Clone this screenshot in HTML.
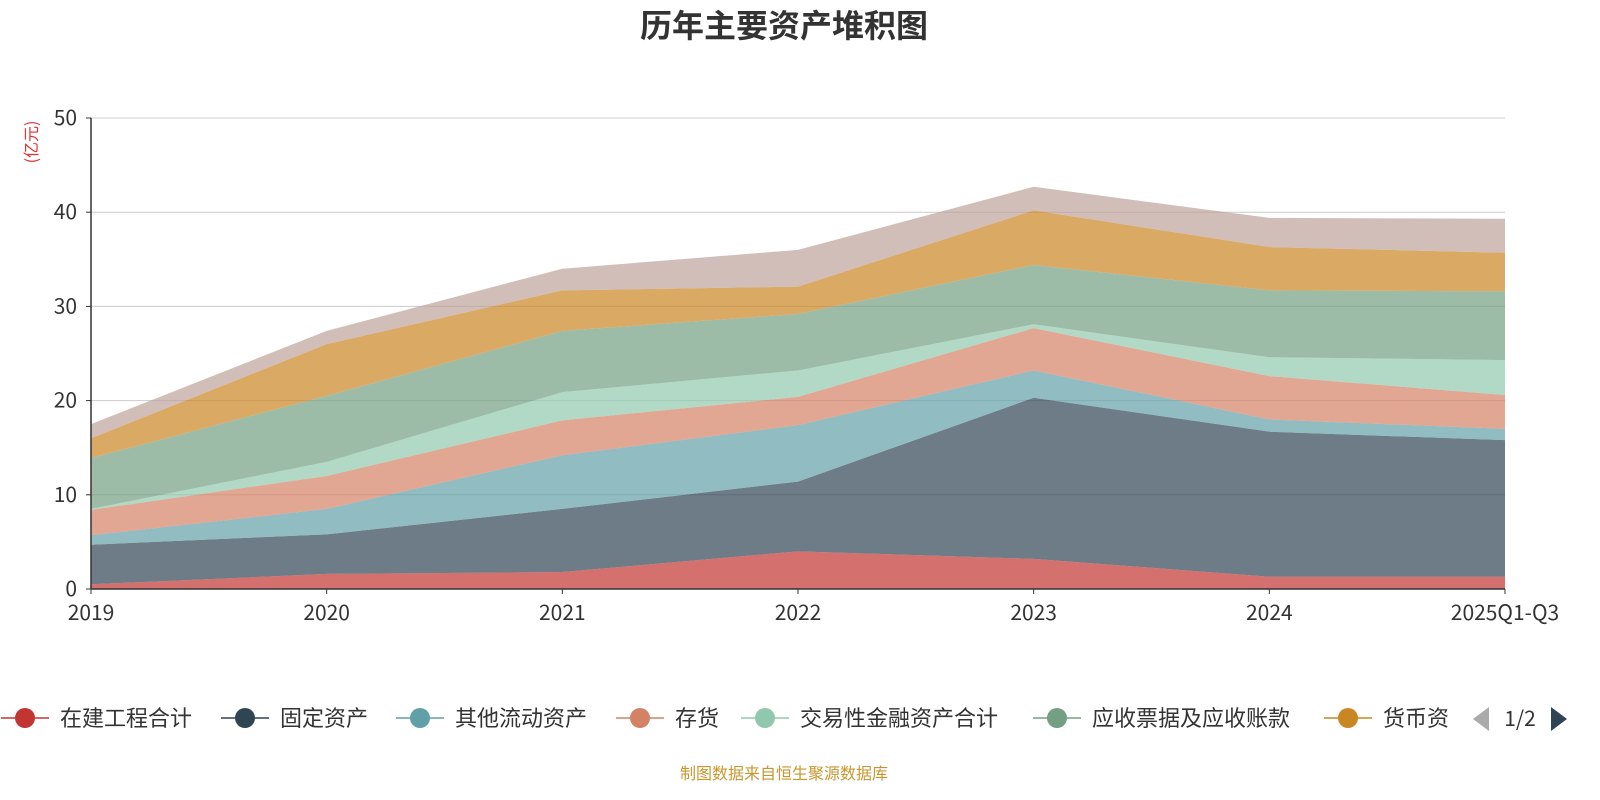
<!DOCTYPE html>
<html><head><meta charset="utf-8"><style>
html,body{margin:0;padding:0;background:#fff;width:1600px;height:800px;overflow:hidden}
svg text{font-family:"Noto Sans CJK SC","Liberation Sans",sans-serif}
</style></head><body>
<svg id="chart" width="1600" height="800">
<text x="784" y="37" text-anchor="middle" font-size="32" font-weight="bold" fill="#333">历年主要资产堆积图</text>
<text transform="translate(37,142) rotate(-90)" text-anchor="middle" font-size="16" fill="#e03030">(亿元)</text>
<g id="grid"></g><g id="areas"></g><g id="axes"></g><g id="legend"></g>
<text x="784" y="779" text-anchor="middle" font-size="16" fill="#c8962e">制图数据来自恒生聚源数据库</text>
</svg>
<script>
const categories=["2019","2020","2021","2022","2023","2024","2025Q1-Q3"];
const seriesNames=["在建工程合计","固定资产","其他流动资产","存货","交易性金融资产合计","应收票据及应收账款","货币资金","其他"];
const s0=[0.5,1.6,1.8,4.0,3.2,1.3,1.3];
const s1=[4.2,4.2,6.7,7.4,17.1,15.4,14.5];
const s2=[1.0,2.7,5.7,6.0,2.9,1.3,1.2];
const s3=[2.7,3.5,3.7,3.0,4.5,4.6,3.6];
const s4=[0.1,1.5,3.0,2.8,0.4,2.0,3.7];
const s5=[5.4,7.0,6.5,6.0,6.3,7.1,7.3];
const s6=[2.1,5.5,4.3,2.9,5.8,4.6,4.1];
const s7=[1.5,1.4,2.3,3.9,2.5,3.1,3.6];
const series=[s0,s1,s2,s3,s4,s5,s6,s7];
const yTicks=[0,10,20,30,40,50];
const colors=["#c23531","#2f4554","#61a0a8","#d48265","#91c7ae","#749f83","#ca8622","#bda29a"];
const NS="http://www.w3.org/2000/svg";
const X0=91,X1=1505,Y0=589,Y1=118,YMAX=50;
const xs=i=>X0+(X1-X0)*i/(categories.length-1);
const ys=v=>Y0-(Y0-Y1)*v/YMAX;
function mk(t,a,p){const e=document.createElementNS(NS,t);for(const k in a)e.setAttribute(k,a[k]);p.appendChild(e);return e;}
const grid=document.getElementById('grid'),areas=document.getElementById('areas'),axes=document.getElementById('axes'),legend=document.getElementById('legend');
yTicks.forEach(t=>{
 if(t>0){const l=mk('line',{x1:X0,x2:X1,y1:ys(t),y2:ys(t),stroke:'#ccc','stroke-width':1},grid);
 
 }
 const tx=mk('text',{x:X0-14,y:ys(t)+7,'text-anchor':'end','font-size':21,fill:'#333'},axes);tx.textContent=t;
 
 
 mk('line',{x1:X0-5,x2:X0,y1:ys(t),y2:ys(t),stroke:'#333'},axes);
});
let base=categories.map(()=>0);
series.forEach((s,k)=>{
 const top=base.map((b,i)=>b+s[i]);
 let d='M'+top.map((v,i)=>xs(i)+','+ys(v)).join('L');
 for(let i=categories.length-1;i>=0;i--)d+='L'+xs(i)+','+ys(base[i]);
 const p=mk('path',{d:d+'Z',fill:colors[k],'fill-opacity':0.7},areas);
 
 
 base=top;
});
mk('line',{x1:X0,x2:X0,y1:Y1,y2:Y0,stroke:'#333','stroke-width':1.5},axes);
mk('line',{x1:X0,x2:X1,y1:Y0,y2:Y0,stroke:'#333','stroke-width':1.5},axes);
categories.forEach((c,i)=>{
 mk('line',{x1:xs(i),x2:xs(i),y1:Y0,y2:Y0+5,stroke:'#333'},axes);
 const t=mk('text',{x:xs(i),y:Y0+31,'text-anchor':'middle','font-size':21,fill:'#333'},axes);t.textContent=c;
 
 
});
const legX=[25,245,420,640,765,1057,1348];
for(let k=0;k<7;k++){
 const g=mk('g',{},legend);
 
 
 mk('line',{x1:legX[k]-24,x2:legX[k]+24,y1:718,y2:718,stroke:colors[k],'stroke-width':1.5},g);
 mk('circle',{cx:legX[k],cy:718,r:10,fill:colors[k]},g);
 const t=mk('text',{x:legX[k]+35,y:726,'font-size':22,fill:'#333'},g);t.textContent=k==6?'货币资':seriesNames[k];
}
const pl=mk('path',{d:'M1489,707L1473,719L1489,731Z',fill:'#aaa'},legend);


const pt=mk('text',{x:1520,y:726,'text-anchor':'middle','font-size':21,fill:'#333'},legend);pt.textContent='1/2';


const pn=mk('path',{d:'M1551,707L1567,719L1551,731Z',fill:'#2f4554'},legend);


</script>
</body></html>
